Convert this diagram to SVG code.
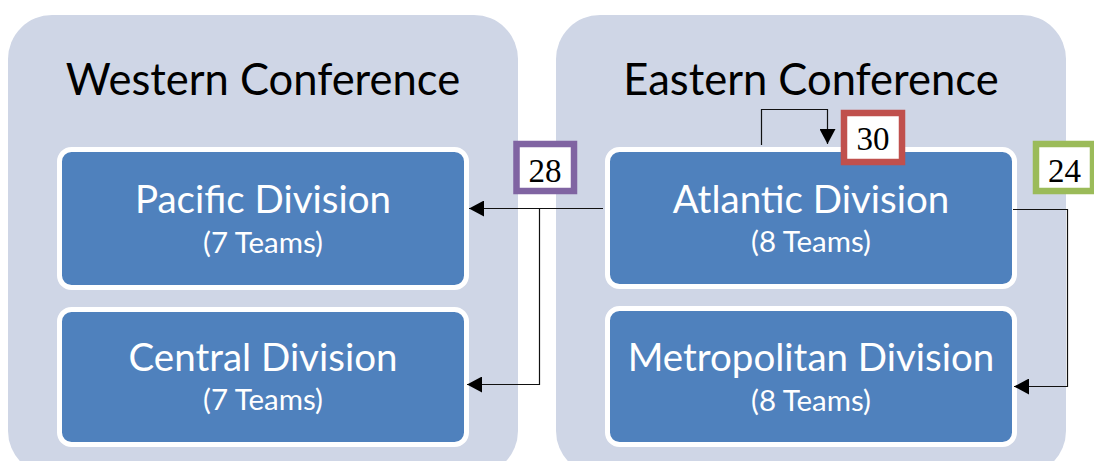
<svg xmlns="http://www.w3.org/2000/svg" width="1094" height="461" viewBox="0 0 1094 461">
  <defs>
    <style>
      .panel { fill: #CFD6E6; }
      .title { font-family: Lato, "Liberation Sans", sans-serif; font-size: 43.5px; fill: #000; text-anchor: middle; }
      .div { fill: #4F81BD; stroke: #FFFFFF; stroke-width: 5; }
      .name { font-family: Lato, "Liberation Sans", sans-serif; font-size: 38.5px; fill: #FFFFFF; text-anchor: middle; }
      .count { font-family: Lato, "Liberation Sans", sans-serif; font-size: 29.5px; fill: #FFFFFF; text-anchor: middle; }
      .wire { fill: none; stroke: #111; stroke-width: 1.2; }
      .tag { fill: #FFFFFF; stroke-width: 6.5; }
      .num { font-family: "Liberation Serif", "DejaVu Serif", serif; font-size: 33px; fill: #000; text-anchor: middle; }
    </style>
    <marker id="arrow" markerWidth="16" markerHeight="16" refX="15" refY="8" orient="auto" markerUnits="userSpaceOnUse">
      <path d="M0,0 L15,8 L0,16 Z" fill="#000"/>
    </marker>
  </defs>

  <rect width="1094" height="461" fill="#FFFFFF"/>

  <!-- conference panels -->
  <g id="western-conference">
    <rect class="panel" x="8" y="15" width="510" height="460" rx="44" ry="44"/>
    <text class="title" x="263" y="95">Western Conference</text>
  </g>
  <g id="eastern-conference">
    <rect class="panel" x="556" y="15" width="510" height="460" rx="44" ry="44"/>
    <text class="title" x="811" y="95">Eastern Conference</text>
  </g>

  <!-- divisions -->
  <g id="pacific-division">
    <rect class="div" x="59.5" y="149.5" width="407" height="138" rx="12" ry="12"/>
    <text class="name" x="263" y="213">Pacific Division</text>
    <text class="count" x="263" y="253">(7 Teams)</text>
  </g>
  <g id="central-division">
    <rect class="div" x="59.5" y="309.5" width="407" height="135" rx="12" ry="12"/>
    <text class="name" x="263" y="371">Central Division</text>
    <text class="count" x="263" y="410">(7 Teams)</text>
  </g>
  <g id="atlantic-division">
    <rect class="div" x="607.5" y="149.5" width="407" height="137" rx="12" ry="12"/>
    <text class="name" x="811" y="213">Atlantic Division</text>
    <text class="count" x="811" y="252">(8 Teams)</text>
  </g>
  <g id="metropolitan-division">
    <rect class="div" x="607.5" y="308.5" width="407" height="136" rx="12" ry="12"/>
    <text class="name" x="811" y="371" font-size="37">Metropolitan Division</text>
    <text class="count" x="811" y="411">(8 Teams)</text>
  </g>

  <!-- connectors -->
  <g id="connectors">
    <path class="wire" d="M603,208.5 H469" marker-end="url(#arrow)"/>
    <path class="wire" d="M539.5,208.5 V384.5 H467" marker-end="url(#arrow)"/>
    <path class="wire" d="M761.5,145 V109.5 H827.5 V144" marker-end="url(#arrow)"/>
    <path class="wire" d="M1013,209.5 H1067.5 V386.5 H1014" marker-end="url(#arrow)"/>
  </g>

  <!-- count tags -->
  <g id="tag-28">
    <rect class="tag" x="516.5" y="144" width="57.5" height="47" stroke="#8064A2"/>
    <text class="num" x="545" y="182">28</text>
  </g>
  <g id="tag-30">
    <rect class="tag" x="844" y="113" width="58" height="49" stroke="#C0504D"/>
    <text class="num" x="873" y="150">30</text>
  </g>
  <g id="tag-24">
    <rect class="tag" x="1036" y="144" width="57" height="47" stroke="#9BBB59"/>
    <text class="num" x="1064.5" y="182">24</text>
  </g>
</svg>
